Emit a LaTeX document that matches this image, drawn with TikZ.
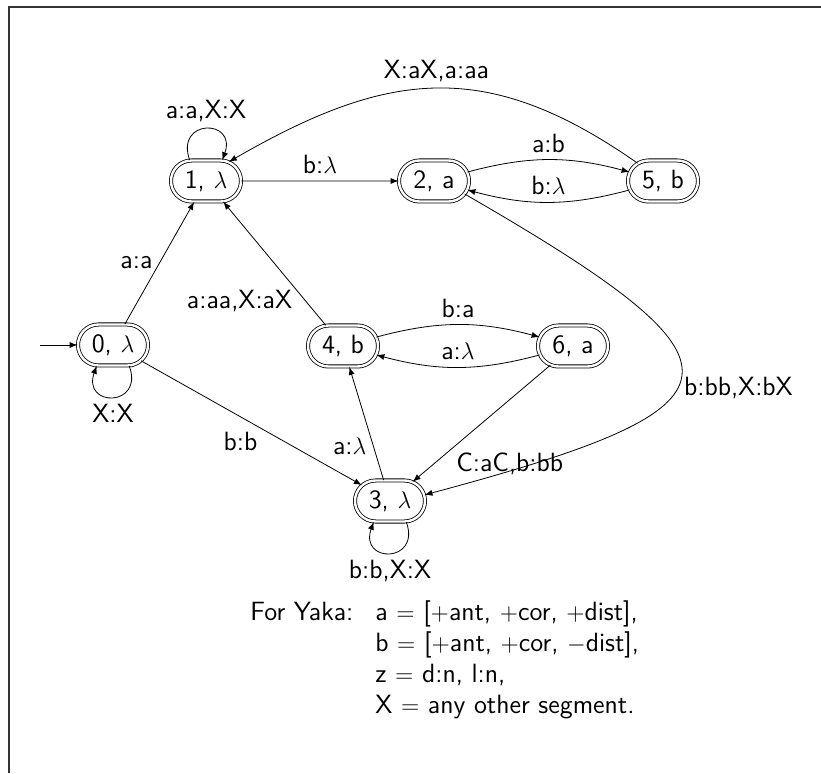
\documentclass[tikz,border=0pt]{standalone}
\usetikzlibrary{shapes.misc}

\begin{document}
\begin{tikzpicture}[x=0.5pt, y=0.5pt, >=latex, font=\fontsize{13.2}{15.5}\selectfont\sffamily]
        \tikzstyle{fst}=[rounded rectangle,draw,thin,double,double distance=1.2pt,minimum width=39pt,minimum height=20.5pt,inner sep=2pt]

        \useasboundingbox (0,0) rectangle (821,773);
        \draw[line width=1pt, black!80] (9,0) -- (9,766) -- (821,766);

        \node[fst] (S_0) at (113,428) {0, $\lambda$};
        \node[fst] (S_1) at (206,592) {1, $\lambda$};
        \node[fst] (S_2) at (434,592) {2, a};
        \node[fst] (S_5) at (663,592) {5, b};
        \node[fst] (S_4) at (343,427) {4, b};
        \node[fst] (S_6) at (573,427) {6, a};
        \node[fst] (S_3) at (390,272) {3, $\lambda$};
        \coordinate (start) at (40,428);

        \draw[->] (start) -- (S_0);
        \draw[->] (S_0) -- (S_1) node[midway,left] {a:a};
        \draw[->] (S_0) -- (S_3) node[pos=0.45,below=4pt] {b:b};
        \draw[->] (S_1) -- (S_2) node[midway,above] {b:$\lambda$};
        \draw[->] (S_4) -- (S_1) node[pos=0.2,left=3pt] {a:aa,X:aX};
        \draw[->] (S_3) -- (S_4) node[pos=0.3,left] {a:$\lambda$};
        \draw[->] (S_6) -- (S_3) node[pos=0.85,right=8pt] {C:aC,b:bb};
        \draw[->] (S_2) to[bend left=15] node[above] {a:b} (S_5);
        \draw[->] (S_5) to[bend left=15] node[above] {b:$\lambda$} (S_2);
        \draw[->] (S_4) to[bend left=15] node[above] {b:a} (S_6);
        \draw[->] (S_6) to[bend left=15] node[above] {a:$\lambda$} (S_4);
        \draw[->] (S_5.145) to[out=145,in=30,looseness=1.15] node[above] {X:aX,a:aa} (S_1.40);
        \draw[->] (S_2.-23) to[out=-30,in=15,looseness=2.9] node[pos=0.55,right] {b:bb,X:bX} (S_3.10);

        % loops
        \draw[->] (S_1.128) to[out=110,in=70,looseness=3.5] node[above] {a:a,X:X} (S_1.52);
        \draw[->] (S_0.-52) to[out=-70,in=-110,looseness=3.5] node[below] {X:X} (S_0.-128);
        \draw[->] (S_3.-52) to[out=-70,in=-110,looseness=3.5] node[below] {b:b,X:X} (S_3.-128);

        \node[anchor=north west,inner sep=0pt] (legend) at (250,175) {\begin{tabular}{@{}l@{\hspace{11pt}}l@{}}
            For Yaka: & a $=$ [$+$ant, $+$cor, $+$dist],\\
             & b $=$ [$+$ant, $+$cor, $-$dist],\\
             & z $=$ d:n, l:n,\\
             & X $=$ any other segment.
        \end{tabular}};
\end{tikzpicture}
\end{document}
